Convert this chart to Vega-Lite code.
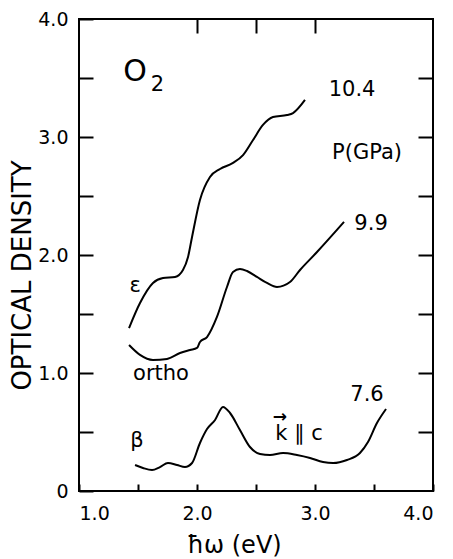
{
  "$schema": "https://vega.github.io/schema/vega-lite/v6.json",
  "width": 354,
  "height": 472,
  "autosize": {"type": "none"},
  "padding": {"left": 79, "top": 19, "right": 20, "bottom": 68},
  "background": "white",
  "config": {
    "view": {"stroke": "black", "strokeWidth": 2},
    "font": "DejaVu Sans",
    "axis": {
      "domain": false,
      "grid": false,
      "ticks": true,
      "tickOpacity": 1,
      "zindex": 1,
      "tickColor": "#000000",
      "tickWidth": 2,
      "labelColor": "black",
      "labelFont": "DejaVu Sans",
      "labelFontSize": 19,
      "titleColor": "black",
      "titleFont": "DejaVu Sans",
      "titleFontWeight": "normal"
    }
  },
  "datasets": {
    "curves": [
      {"series": "10.4", "x": 1.424, "y": 1.381},
      {"series": "10.4", "x": 1.517, "y": 1.593},
      {"series": "10.4", "x": 1.627, "y": 1.763},
      {"series": "10.4", "x": 1.712, "y": 1.805},
      {"series": "10.4", "x": 1.814, "y": 1.814},
      {"series": "10.4", "x": 1.881, "y": 1.873},
      {"series": "10.4", "x": 1.924, "y": 1.983},
      {"series": "10.4", "x": 1.958, "y": 2.153},
      {"series": "10.4", "x": 2.025, "y": 2.466},
      {"series": "10.4", "x": 2.110, "y": 2.661},
      {"series": "10.4", "x": 2.195, "y": 2.729},
      {"series": "10.4", "x": 2.305, "y": 2.780},
      {"series": "10.4", "x": 2.390, "y": 2.847},
      {"series": "10.4", "x": 2.475, "y": 2.975},
      {"series": "10.4", "x": 2.559, "y": 3.102},
      {"series": "10.4", "x": 2.644, "y": 3.169},
      {"series": "10.4", "x": 2.763, "y": 3.186},
      {"series": "10.4", "x": 2.814, "y": 3.203},
      {"series": "10.4", "x": 2.915, "y": 3.314},
      {"series": "9.9", "x": 1.424, "y": 1.237},
      {"series": "9.9", "x": 1.517, "y": 1.153},
      {"series": "9.9", "x": 1.627, "y": 1.110},
      {"series": "9.9", "x": 1.746, "y": 1.119},
      {"series": "9.9", "x": 1.856, "y": 1.169},
      {"series": "9.9", "x": 1.941, "y": 1.195},
      {"series": "9.9", "x": 2.000, "y": 1.212},
      {"series": "9.9", "x": 2.025, "y": 1.263},
      {"series": "9.9", "x": 2.085, "y": 1.305},
      {"series": "9.9", "x": 2.169, "y": 1.475},
      {"series": "9.9", "x": 2.254, "y": 1.729},
      {"series": "9.9", "x": 2.305, "y": 1.856},
      {"series": "9.9", "x": 2.364, "y": 1.881},
      {"series": "9.9", "x": 2.424, "y": 1.864},
      {"series": "9.9", "x": 2.508, "y": 1.814},
      {"series": "9.9", "x": 2.593, "y": 1.763},
      {"series": "9.9", "x": 2.678, "y": 1.729},
      {"series": "9.9", "x": 2.788, "y": 1.771},
      {"series": "9.9", "x": 2.873, "y": 1.873},
      {"series": "9.9", "x": 3.017, "y": 2.025},
      {"series": "9.9", "x": 3.246, "y": 2.280},
      {"series": "7.6", "x": 1.475, "y": 0.220},
      {"series": "7.6", "x": 1.542, "y": 0.195},
      {"series": "7.6", "x": 1.619, "y": 0.178},
      {"series": "7.6", "x": 1.686, "y": 0.203},
      {"series": "7.6", "x": 1.754, "y": 0.237},
      {"series": "7.6", "x": 1.831, "y": 0.220},
      {"series": "7.6", "x": 1.898, "y": 0.203},
      {"series": "7.6", "x": 1.958, "y": 0.237},
      {"series": "7.6", "x": 2.025, "y": 0.407},
      {"series": "7.6", "x": 2.085, "y": 0.525},
      {"series": "7.6", "x": 2.153, "y": 0.602},
      {"series": "7.6", "x": 2.220, "y": 0.712},
      {"series": "7.6", "x": 2.280, "y": 0.661},
      {"series": "7.6", "x": 2.364, "y": 0.517},
      {"series": "7.6", "x": 2.449, "y": 0.373},
      {"series": "7.6", "x": 2.534, "y": 0.314},
      {"series": "7.6", "x": 2.619, "y": 0.305},
      {"series": "7.6", "x": 2.729, "y": 0.322},
      {"series": "7.6", "x": 2.847, "y": 0.305},
      {"series": "7.6", "x": 2.958, "y": 0.280},
      {"series": "7.6", "x": 3.068, "y": 0.246},
      {"series": "7.6", "x": 3.153, "y": 0.237},
      {"series": "7.6", "x": 3.271, "y": 0.263},
      {"series": "7.6", "x": 3.381, "y": 0.322},
      {"series": "7.6", "x": 3.449, "y": 0.415},
      {"series": "7.6", "x": 3.525, "y": 0.576},
      {"series": "7.6", "x": 3.602, "y": 0.695}
    ],
    "labels": [
      {"x": 1.665, "y": 3.44, "text": "2"},
      {"x": 3.314, "y": 3.398, "text": "10.4"},
      {"x": 3.441, "y": 2.864, "text": "P(GPa)"},
      {"x": 3.475, "y": 2.263, "text": "9.9"},
      {"x": 1.475, "y": 1.737, "text": "ε"},
      {"x": 1.695, "y": 0.99, "text": "ortho"},
      {"x": 3.441, "y": 0.814, "text": "7.6"},
      {"x": 1.492, "y": 0.424, "text": "β"},
      {"x": 2.864, "y": 0.48, "text": "k ∥ c"}
    ],
    "big": [
      {"x": 1.475, "y": 3.551, "text": "O"}
    ],
    "arrow": [
      {"x": 2.703, "y": 0.625, "text": "→"}
    ]
  },
  "layer": [
    {
      "data": {"name": "curves"},
      "mark": {"type": "line", "color": "black", "strokeWidth": 2, "interpolate": "monotone"},
      "encoding": {
        "x": {
          "field": "x", "type": "quantitative",
          "scale": {"domain": [1, 4], "nice": false, "zero": false},
          "axis": {
            "orient": "bottom",
            "ticks": true,
            "values": [1, 1.5, 2, 2.5, 3, 3.5, 4],
            "labelExpr": "datum.value % 1 == 0 ? format(datum.value, '.1f') : ''",
            "tickSize": -7,
            "labelPadding": 20,
            "title": "ħω (eV)",
            "titleFontSize": 24,
            "titleX": 155,
            "titleY": 54,
            "titleBaseline": "middle",
            "titleAnchor": "middle"
          }
        },
        "y": {
          "field": "y", "type": "quantitative",
          "scale": {"domain": [0, 4], "nice": false, "zero": false},
          "axis": {
            "orient": "left",
            "ticks": true,
            "values": [0, 0.5, 1, 1.5, 2, 2.5, 3, 3.5, 4],
            "labelExpr": "datum.value == 0 ? '0' : (datum.value % 1 == 0 ? format(datum.value, '.1f') : '')",
            "tickSize": -14,
            "labelPadding": 25,
            "title": "OPTICAL DENSITY",
            "titleFontSize": 26,
            "titleX": -57,
            "titleY": 256,
            "titleAngle": -90,
            "titleBaseline": "middle",
            "titleAnchor": "middle"
          }
        },
        "detail": {"field": "series"}
      }
    },
    {
      "data": {"name": "labels"},
      "mark": {"type": "text", "fontSize": 21, "color": "black", "align": "center", "baseline": "middle", "font": "DejaVu Sans"},
      "encoding": {
        "x": {
          "field": "x", "type": "quantitative",
          "axis": {"orient": "top", "ticks": true, "values": [2, 2.5, 3], "labels": false, "tickSize": -14, "title": null}
        },
        "y": {
          "field": "y", "type": "quantitative",
          "axis": {"orient": "right", "ticks": true, "values": [0.5, 1, 1.5, 2, 2.5, 3, 3.5], "labels": false, "tickSize": -15, "title": null}
        },
        "text": {"field": "text"}
      }
    },
    {
      "data": {"name": "big"},
      "mark": {"type": "text", "fontSize": 30, "color": "black", "align": "center", "baseline": "middle", "font": "DejaVu Sans"},
      "encoding": {
        "x": {"field": "x", "type": "quantitative", "axis": null},
        "y": {"field": "y", "type": "quantitative", "axis": null},
        "text": {"field": "text"}
      }
    },
    {
      "data": {"name": "arrow"},
      "mark": {"type": "text", "fontSize": 17, "color": "black", "align": "center", "baseline": "middle", "font": "DejaVu Sans", "fontWeight": "bold"},
      "encoding": {
        "x": {"field": "x", "type": "quantitative", "axis": null},
        "y": {"field": "y", "type": "quantitative", "axis": null},
        "text": {"field": "text"}
      }
    }
  ]
}
